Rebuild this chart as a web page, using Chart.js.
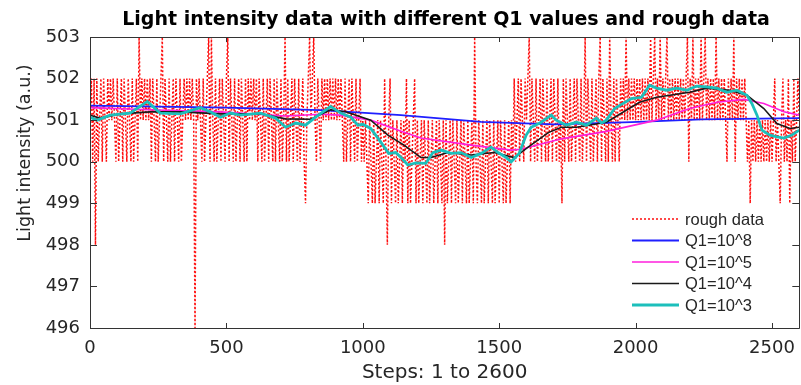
<!DOCTYPE html>
<html>
<head>
<meta charset="utf-8">
<script src="https://cdn.jsdelivr.net/npm/chart.js@4.4.0/dist/chart.umd.min.js"></script>
<style>
  html, body { margin: 0; padding: 0; overflow: hidden; background: #fff; }
</style>
</head>
<body>
<canvas id="lightChart" width="805" height="385"></canvas>
<script>
// rough data, one sample every 5 steps
const roughStep = 5;
const roughData = [
  501, 502, 500, 502, 498, 502, 500, 501, 502, 500, 502, 501, 500, 502, 501, 502, 501, 502, 501, 500,
  502, 500, 501, 502, 500, 502, 501, 500, 502, 501, 500, 502, 500, 501, 502, 500, 503, 501, 502, 501,
  502, 501, 502, 501, 502, 500, 502, 501, 500, 502, 500, 501, 502, 503, 500, 502, 501, 500, 502, 500,
  501, 502, 500, 502, 501, 500, 502, 500, 501, 502, 501, 502, 501, 502, 501, 502, 501, 496, 502, 501,
  502, 501, 500, 502, 500, 501, 502, 503, 500, 503, 501, 500, 502, 500, 501, 502, 500, 502, 501, 500,
  502, 503, 500, 502, 501, 500, 502, 500, 501, 502, 500, 502, 501, 500, 502, 500, 502, 501, 502, 501,
  502, 501, 502, 500, 502, 501, 500, 502, 500, 501, 502, 500, 502, 501, 500, 502, 500, 502, 501, 500,
  502, 500, 501, 503, 500, 502, 500, 501, 502, 500, 502, 501, 500, 502, 500, 501, 502, 500, 499, 501,
  502, 503, 501, 502, 503, 501, 500, 502, 501, 500, 502, 501, 502, 501, 502, 501, 502, 501, 502, 501,
  502, 501, 502, 501, 502, 501, 500, 502, 500, 501, 502, 500, 502, 501, 500, 502, 500, 501, 502, 500,
  501, 500, 501, 500, 499, 501, 500, 499, 501, 499, 500, 501, 499, 501, 500, 499, 502, 500, 498, 501,
  502, 499, 501, 500, 499, 501, 499, 500, 501, 499, 501, 500, 502, 499, 501, 499, 500, 501, 502, 499,
  501, 499, 500, 501, 499, 501, 500, 499, 501, 499, 500, 501, 499, 500, 501, 499, 501, 500, 499, 501,
  498, 501, 499, 500, 501, 499, 501, 500, 499, 501, 499, 500, 501, 499, 501, 500, 499, 501, 499, 500,
  501, 499, 503, 500, 499, 501, 500, 499, 501, 499, 500, 501, 499, 501, 500, 499, 501, 499, 500, 501,
  499, 501, 500, 499, 501, 499, 500, 501, 499, 501, 500, 502, 500, 501, 502, 500, 502, 501, 500, 502,
  501, 502, 503, 500, 502, 501, 500, 502, 500, 501, 502, 500, 502, 501, 500, 502, 500, 501, 502, 500,
  502, 501, 500, 502, 500, 501, 499, 502, 500, 502, 501, 500, 502, 500, 501, 502, 500, 502, 501, 500,
  502, 500, 501, 503, 500, 502, 501, 500, 502, 500, 501, 502, 500, 502, 503, 500, 502, 501, 500, 502,
  500, 503, 501, 500, 502, 500, 502, 501, 500, 502, 501, 502, 501, 503, 501, 502, 501, 502, 501, 502,
  501, 502, 501, 502, 501, 502, 501, 502, 501, 502, 501, 503, 501, 502, 503, 501, 502, 501, 503, 501,
  502, 501, 502, 503, 501, 502, 501, 502, 501, 502, 501, 502, 501, 502, 501, 502, 501, 502, 503, 500,
  502, 501, 503, 501, 502, 501, 502, 501, 503, 501, 502, 503, 501, 502, 501, 502, 501, 502, 501, 503,
  501, 502, 501, 502, 501, 502, 501, 500, 502, 501, 502, 501, 503, 500, 502, 501, 502, 501, 502, 501,
  502, 501, 500, 501, 499, 501, 500, 501, 500, 501, 500, 501, 500, 501, 500, 501, 500, 501, 500, 501,
  500, 501, 502, 500, 501, 500, 499, 501, 502, 500, 501, 500, 502, 499, 501, 500, 502, 500, 501, 502,
  501
];

// filtered curves
const q8Steps  = [0, 500, 845, 1140, 1434, 1702, 1985, 2242, 2600];
const q8Values = [501.35, 501.3, 501.24, 501.12, 500.96, 500.9, 500.95, 501.02, 501.05];

const q5Steps  = [0, 221, 478, 717, 845, 919, 1029, 1140, 1213, 1397, 1544, 1580, 1728, 1893, 2077, 2198, 2298, 2397, 2470, 2544, 2600];
const q5Values = [501.3, 501.25, 501.2, 501.1, 501.14, 501.12, 501.0, 500.73, 500.57, 500.4, 500.28, 500.3, 500.55, 500.73, 501.0, 501.28, 501.43, 501.5, 501.4, 501.2, 501.12];

const q4Steps  = [0, 37, 110, 221, 331, 478, 625, 717, 809, 882, 937, 1029, 1092, 1151, 1213, 1250, 1312, 1397, 1481, 1555, 1606, 1680, 1728, 1783, 1893, 2014, 2077, 2198, 2261, 2345, 2408, 2470, 2518, 2566, 2600];
const q4Values = [501.12, 501.05, 501.15, 501.2, 501.2, 501.15, 501.15, 501.03, 501.02, 501.25, 501.2, 501.0, 500.64, 500.4, 500.1, 500.1, 500.22, 500.16, 500.22, 500.1, 500.35, 500.7, 500.83, 500.83, 500.95, 501.43, 501.55, 501.67, 501.77, 501.72, 501.6, 501.28, 500.92, 500.8, 500.83];

const q3Steps  = [0, 26, 74, 147, 210, 257, 331, 404, 441, 478, 515, 551, 625, 680, 717, 754, 790, 827, 882, 919, 956, 982, 1000, 1029, 1066, 1095, 1121, 1140, 1165, 1195, 1231, 1257, 1287, 1323, 1360, 1397, 1434, 1470, 1496, 1526, 1544, 1573, 1599, 1617, 1654, 1691, 1709, 1746, 1783, 1820, 1856, 1875, 1893, 1923, 1948, 1985, 2022, 2051, 2077, 2114, 2150, 2187, 2224, 2261, 2298, 2334, 2371, 2408, 2426, 2445, 2463, 2492, 2518, 2544, 2573, 2600];
const q3Values = [501.07, 501.0, 501.12, 501.17, 501.45, 501.17, 501.15, 501.3, 501.2, 501.07, 501.17, 501.12, 501.17, 501.05, 500.83, 500.93, 500.88, 501.07, 501.33, 501.17, 501.07, 500.88, 500.9, 500.8, 500.47, 500.2, 500.22, 500.1, 499.92, 499.97, 499.96, 500.22, 500.28, 500.2, 500.22, 500.1, 500.2, 500.35, 500.22, 500.1, 500.0, 500.2, 500.64, 500.83, 500.95, 501.12, 501.0, 500.88, 500.95, 500.88, 501.05, 500.93, 501.0, 501.28, 501.38, 501.52, 501.55, 501.84, 501.77, 501.72, 501.77, 501.72, 501.82, 501.8, 501.77, 501.67, 501.72, 501.6, 501.4, 501.12, 500.76, 500.64, 500.6, 500.57, 500.64, 500.76];

const xTickValues = [0, 500, 1000, 1500, 2000, 2500];
const yMin = 496, yMax = 503;
const chartTitle = 'Light intensity data with different Q1 values and rough data';
const yTitle = 'Light intensity (a.u.)';
const axisColor = '#333333';

function toPoints(steps, values) {
  return steps.map((s, i) => ({ x: s, y: values[i] }));
}

// box, inward ticks, title, legend and y label, drawn the matlab way
const matlabFrame = {
  id: 'matlabFrame',
  afterDraw(chart) {
    const { ctx, chartArea: a, scales: { x, y } } = chart;
    ctx.save();
    ctx.strokeStyle = axisColor;
    ctx.lineWidth = 1;
    ctx.setLineDash([]);
    ctx.beginPath();
    ctx.rect(Math.round(a.left) + 0.5, Math.round(a.top) + 0.5, Math.round(a.right - a.left), Math.round(a.bottom - a.top));
    x.ticks.forEach(t => {
      const px = Math.round(x.getPixelForValue(t.value)) + 0.5;
      ctx.moveTo(px, a.bottom); ctx.lineTo(px, a.bottom - 5);
      ctx.moveTo(px, a.top); ctx.lineTo(px, a.top + 5);
    });
    y.ticks.forEach(t => {
      const py = Math.round(y.getPixelForValue(t.value)) + 0.5;
      ctx.moveTo(a.left, py); ctx.lineTo(a.left + 7, py);
      ctx.moveTo(a.right, py); ctx.lineTo(a.right - 7, py);
    });
    ctx.stroke();

    // title over the axes
    ctx.fillStyle = '#000';
    ctx.font = 'bold 19px "DejaVu Sans"';
    ctx.textAlign = 'center';
    ctx.textBaseline = 'middle';
    ctx.fillText(chartTitle, 446, 20);

    // y axis title
    ctx.fillStyle = '#262626';
    ctx.font = '17.5px "DejaVu Sans"';
    ctx.translate(25, 153);
    ctx.rotate(-Math.PI / 2);
    ctx.fillText(yTitle, 0, 0);
    ctx.setTransform(1, 0, 0, 1, 0, 0);

    // legend
    const rows = [219, 240.5, 262, 283.5, 305];
    ctx.font = '16.5px "Liberation Sans"';
    ctx.textAlign = 'left';
    chart.data.datasets.forEach((ds, i) => {
      const ly = rows[i];
      ctx.beginPath();
      ctx.strokeStyle = ds.borderColor;
      ctx.lineWidth = ds.borderWidth;
      ctx.setLineDash(ds.borderDash || []);
      ctx.moveTo(632, ly);
      ctx.lineTo(679, ly);
      ctx.stroke();
      ctx.fillStyle = '#262626';
      ctx.fillText(ds.label, 685, ly + 1);
    });
    ctx.restore();
  }
};

function CreateChart() {
  const ctx = document.getElementById('lightChart');
  new Chart(ctx, {
    type: 'line',
    data: {
      datasets: [
        {
          label: 'rough data',
          data: roughData.map((v, i) => ({ x: i * roughStep, y: v })),
          borderColor: '#ff0d0d',
          borderWidth: 1.5,
          borderDash: [2, 2],
          pointRadius: 0,
          order: 5
        },
        {
          label: 'Q1=10^8',
          data: toPoints(q8Steps, q8Values),
          borderColor: '#1f1fff',
          borderWidth: 1.8,
          pointRadius: 0,
          order: 4
        },
        {
          label: 'Q1=10^5',
          data: toPoints(q5Steps, q5Values),
          borderColor: '#ff1fdc',
          borderWidth: 1.6,
          pointRadius: 0,
          order: 3
        },
        {
          label: 'Q1=10^4',
          data: toPoints(q4Steps, q4Values),
          borderColor: '#1a1a1a',
          borderWidth: 1.6,
          pointRadius: 0,
          order: 2
        },
        {
          label: 'Q1=10^3',
          data: toPoints(q3Steps, q3Values),
          borderColor: '#1cbfbb',
          borderWidth: 2.8,
          pointRadius: 0,
          order: 1
        }
      ]
    },
    options: {
      responsive: false,
      animation: false,
      events: [],
      layout: { padding: { left: 0, right: 2, top: 37, bottom: 0 } },
      plugins: {
        legend: { display: false },
        tooltip: { enabled: false },
        title: { display: false }
      },
      scales: {
        x: {
          type: 'linear',
          min: 0,
          max: 2600,
          grid: { display: false, drawTicks: false },
          border: { display: false },
          afterBuildTicks(scale) {
            scale.ticks = xTickValues.map(v => ({ value: v }));
          },
          ticks: {
            color: '#262626',
            padding: 10,
            maxRotation: 0,
            autoSkip: false,
            font: { family: 'DejaVu Sans', size: 18 },
            callback: value => String(value)
          },
          title: {
            display: true,
            text: 'Steps: 1 to 2600',
            color: '#262626',
            font: { family: 'DejaVu Sans', size: 20 },
            padding: { top: 0, bottom: 0 }
          },
          afterFit(scale) { scale.height = 57; }
        },
        y: {
          min: yMin,
          max: yMax,
          grid: { display: false, drawTicks: false },
          border: { display: false },
          ticks: {
            stepSize: 1,
            color: '#262626',
            padding: 10,
            font: { family: 'DejaVu Sans', size: 18 }
          },
          afterFit(scale) { scale.width = 90; }
        }
      }
    },
    plugins: [matlabFrame]
  });
}

CreateChart();
</script>
</body>
</html>
